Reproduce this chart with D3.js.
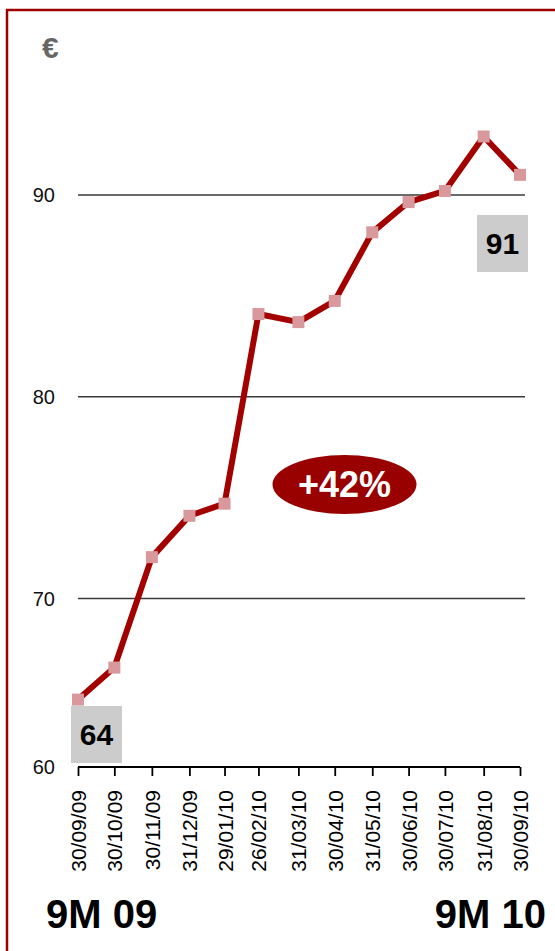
<!DOCTYPE html>
<html>
<head>
<meta charset="utf-8">
<script src="https://cdn.jsdelivr.net/npm/d3@7"></script>
<style>
  html, body { margin: 0; padding: 0; background: #fff; }
  svg { display: block; font-family: "Liberation Sans", Arial, Helvetica, sans-serif; }
</style>
</head>
<body>
<svg id="chart" width="555" height="951"></svg>
<script>
// Month-end share price, 9M 09 to 9M 10 (EUR)
const dates = ["30/09/09", "30/10/09", "30/11/09", "31/12/09", "29/01/10", "26/02/10",
               "31/03/10", "30/04/10", "31/05/10", "30/06/10", "30/07/10", "31/08/10", "30/09/10"];
const prices = [64, 65.9, 72.05, 74.1, 74.7, 84.1, 83.7, 84.75, 88.15, 89.65, 90.2, 92.9, 91];
const yTicks = [60, 70, 80, 90];
const gridValues = [70, 80, 90];
const periodLabels = ["9M 09", "9M 10"];
const changeLabel = "+42%";
const unitLabel = "€";

const parse = d3.timeParse("%d/%m/%y");
const fmt = d3.timeFormat("%d/%m/%y");
const points = dates.map((d, i) => ({ date: parse(d), value: prices[i] }));

const svg = d3.select("#chart");
const red = "#9c0000";

// Frame
svg.append("rect")
  .attr("x", 7).attr("y", 10)
  .attr("width", 600).attr("height", 1000)
  .attr("fill", "none")
  .attr("stroke", red)
  .attr("stroke-width", 2.5);

// Scales
const x = d3.scaleTime()
  .domain(d3.extent(points, d => d.date))
  .range([78, 520]);

// The axis base is labelled 60; the lower band is compressed below 70.
const y = d3.scaleLinear()
  .domain([60, 70, 90])
  .range([767, 598.5, 195]);

// Gridlines
svg.append("g")
  .selectAll("line")
  .data(gridValues)
  .join("line")
  .attr("x1", 78).attr("x2", 525)
  .attr("y1", d => y(d)).attr("y2", d => y(d))
  .attr("stroke", "#3a3a3a")
  .attr("stroke-width", 1.3);

// Y tick labels
svg.append("g")
  .selectAll("text")
  .data(yTicks)
  .join("text")
  .attr("x", 55)
  .attr("y", d => y(d))
  .attr("dy", "0.36em")
  .attr("text-anchor", "end")
  .attr("font-size", 20)
  .attr("fill", "#111")
  .text(d => d);

// Unit label
svg.append("text")
  .attr("x", 42).attr("y", 58)
  .attr("font-size", 30)
  .attr("font-weight", "bold")
  .attr("fill", "#666")
  .text(unitLabel);

// X axis
const xAxis = d3.axisBottom(x)
  .tickValues(points.map(d => d.date))
  .tickFormat(fmt)
  .tickSize(9)
  .tickSizeOuter(0);

const gx = svg.append("g")
  .attr("transform", `translate(0,${y(60)})`)
  .call(xAxis);

gx.select(".domain")
  .attr("stroke", "#000")
  .attr("stroke-width", 2)
  .attr("d", `M${x.range()[0]},0H${x.range()[1]}`);
gx.selectAll(".tick line")
  .attr("stroke", "#000")
  .attr("stroke-width", 1.8);
gx.selectAll(".tick text")
  .attr("font-family", "\"Liberation Sans\", Arial, sans-serif")
  .attr("font-size", 21)
  .attr("fill", "#000")
  .attr("transform", "rotate(-90)")
  .attr("text-anchor", "end")
  .attr("x", -23)
  .attr("y", 0)
  .attr("dy", "0.36em");

// Value boxes for the start and end of the period
const first = points[0], last = points[points.length - 1];
const boxes = [
  { label: String(first.value), cx: 96.5, top: y(60) - 61 },
  { label: String(last.value), cx: 502.5, top: y(90) + 20 }
];
const boxG = svg.append("g");
boxG.selectAll("rect")
  .data(boxes)
  .join("rect")
  .attr("x", d => d.cx - 25.5)
  .attr("y", d => d.top)
  .attr("width", 51)
  .attr("height", 57)
  .attr("fill", "#cccccc");
boxG.selectAll("text")
  .data(boxes)
  .join("text")
  .attr("x", d => d.cx)
  .attr("y", d => d.top + 28.5)
  .attr("dy", "0.36em")
  .attr("text-anchor", "middle")
  .attr("font-size", 30)
  .attr("font-weight", "bold")
  .attr("fill", "#000")
  .text(d => d.label);

// Price line
const line = d3.line()
  .x(d => x(d.date))
  .y(d => y(d.value));

svg.append("path")
  .datum(points)
  .attr("d", line)
  .attr("fill", "none")
  .attr("stroke", "#a30000")
  .attr("stroke-width", 6)
  .attr("stroke-linejoin", "round");

// Markers
const ms = 12;
svg.append("g")
  .selectAll("rect")
  .data(points)
  .join("rect")
  .attr("x", d => x(d.date) - ms / 2)
  .attr("y", d => y(d.value) - ms / 2)
  .attr("width", ms)
  .attr("height", ms)
  .attr("fill", "#d9999c");

// Change badge
const badge = svg.append("g").attr("transform", "translate(344.5,484.5)");
badge.append("ellipse")
  .attr("rx", 72).attr("ry", 29.5)
  .attr("fill", "#990000");
badge.append("text")
  .attr("text-anchor", "middle")
  .attr("dy", "0.36em")
  .attr("font-size", 36)
  .attr("font-weight", "bold")
  .attr("fill", "#fff")
  .text(changeLabel);

// Period labels
svg.append("g")
  .selectAll("text")
  .data(periodLabels)
  .join("text")
  .attr("x", (d, i) => i === 0 ? 46 : 546)
  .attr("y", 928)
  .attr("text-anchor", (d, i) => i === 0 ? "start" : "end")
  .attr("font-size", 40)
  .attr("font-weight", "bold")
  .attr("fill", "#000")
  .text(d => d);
</script>
</body>
</html>
